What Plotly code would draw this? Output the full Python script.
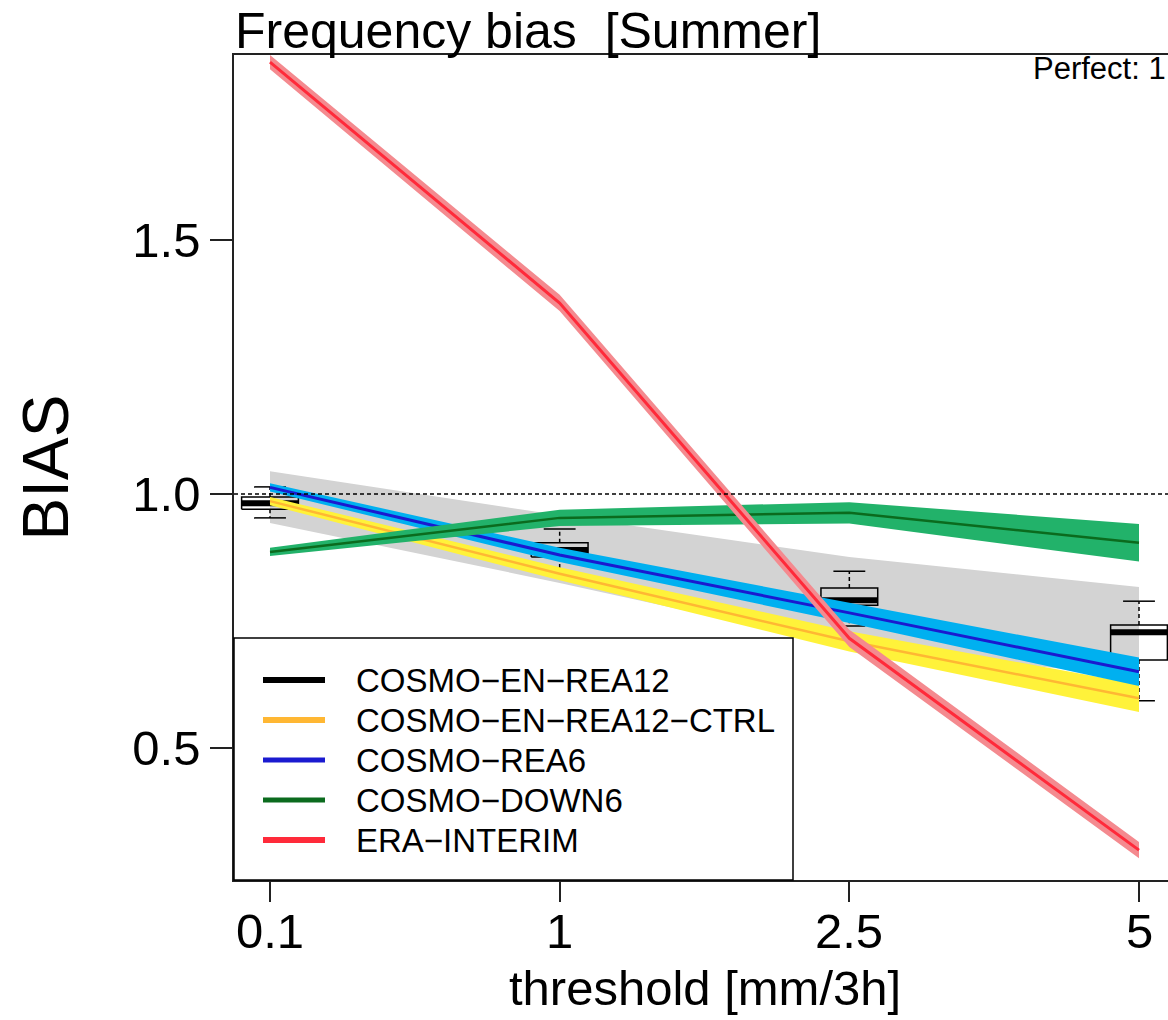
import plotly.graph_objects as go

# ---------------- data ----------------
thresholds = ["0.1", "1", "2.5", "5"]
pos = [1, 2, 3, 4]

# COSMO-EN-REA12 ensemble spread (grey band)
ens_lo = [0.943, 0.825, 0.700, 0.640]
ens_hi = [1.045, 0.958, 0.876, 0.817]

# COSMO-EN-REA12 boxplot statistics
box_lw = [0.953, 0.843, 0.740, 0.593]
box_q1 = [0.970, 0.876, 0.781, 0.673]
box_med = [0.982, 0.890, 0.791, 0.728]
box_q3 = [0.994, 0.904, 0.815, 0.742]
box_uw = [1.014, 0.931, 0.848, 0.789]

ctrl = [0.986, 0.843, 0.710, 0.598]
ctrl_sd = [0.008, 0.013, 0.020, 0.027]
rea6 = [1.013, 0.880, 0.766, 0.650]
rea6_sd = [0.008, 0.014, 0.020, 0.028]
down6 = [0.886, 0.953, 0.963, 0.904]
down6_sd = [0.008, 0.016, 0.021, 0.037]
era = [1.850, 1.376, 0.716, 0.299]
era_sd = [0.014, 0.016, 0.017, 0.016]

legend_names = ["COSMO\u2212EN\u2212REA12", "COSMO\u2212EN\u2212REA12\u2212CTRL",
                "COSMO\u2212REA6", "COSMO\u2212DOWN6", "ERA\u2212INTERIM"]
legend_colors = ["#000000", "#FFB733", "#1A1AD0", "#0B6B1E", "#FF2A3A"]
legend_widths = [6, 6, 5, 5, 6]

FONT = "Liberation Sans, Arial, Helvetica, sans-serif"

fig = go.Figure()


def band(center, sd, fillcolor, linecolor, lw):
    hi = [c + s for c, s in zip(center, sd)]
    lo = [c - s for c, s in zip(center, sd)]
    fig.add_trace(go.Scatter(x=pos + pos[::-1], y=hi + lo[::-1], fill="toself",
                             fillcolor=fillcolor, line=dict(width=0), mode="lines",
                             hoverinfo="skip", showlegend=False))
    fig.add_trace(go.Scatter(x=pos, y=center, mode="lines",
                             line=dict(color=linecolor, width=lw), showlegend=False))


# grey ensemble band
fig.add_trace(go.Scatter(x=pos + pos[::-1], y=ens_hi + ens_lo[::-1], fill="toself",
                         fillcolor="#D3D3D3", line=dict(width=0), mode="lines",
                         hoverinfo="skip", showlegend=False))

# boxplots
bw = 0.098
cw = 0.055
bx, by, mx, my, wx, wy, cx, cy = [], [], [], [], [], [], [], []
for p, lw_, q1, md, q3, uw in zip(pos, box_lw, box_q1, box_med, box_q3, box_uw):
    bx += [p - bw, p + bw, p + bw, p - bw, p - bw, None]
    by += [q1, q1, q3, q3, q1, None]
    mx += [p - bw, p + bw, None]
    my += [md, md, None]
    wx += [p, p, None, p, p, None]
    wy += [q3, uw, None, q1, lw_, None]
    cx += [p - cw, p + cw, None, p - cw, p + cw, None]
    cy += [uw, uw, None, lw_, lw_, None]
fig.add_trace(go.Scatter(x=wx, y=wy, mode="lines", line=dict(color="black", width=1.5, dash="4px,3px"),
                         showlegend=False))
fig.add_trace(go.Scatter(x=cx, y=cy, mode="lines", line=dict(color="black", width=1.5), showlegend=False))
fig.add_trace(go.Scatter(x=bx, y=by, mode="lines", line=dict(color="black", width=1.5), showlegend=False))
fig.add_trace(go.Scatter(x=mx, y=my, mode="lines", line=dict(color="black", width=6), showlegend=False))

band(ctrl, ctrl_sd, "#FFF23A", "#FFB733", 2.5)
band(rea6, rea6_sd, "#00B0F0", "#1A1AD0", 3)
band(down6, down6_sd, "#22B26A", "#0B6B1E", 2.5)
band(era, era_sd, "#F48A8F", "#FF2A3A", 3)

# perfect line
fig.add_hline(y=1.0, line=dict(color="black", width=1.3, dash="4px,3px"))

W, H = 1168, 1020
L, R, T, B = 234, 0, 55, 140
pw, ph = W - L - R, H - T - B


def px(x):
    return (x - L) / pw


def py(y):
    return (H - B - y) / ph


# legend (drawn manually)
fig.add_shape(type="rect", xref="paper", yref="paper", x0=0, x1=px(793), y0=0, y1=py(638),
              fillcolor="white", line=dict(color="black", width=1.5), layer="above")
rows = [680, 720, 760, 800, 840]
for name, col, w, r in zip(legend_names, legend_colors, legend_widths, rows):
    fig.add_shape(type="line", xref="paper", yref="paper", x0=px(263), x1=px(325),
                  y0=py(r), y1=py(r), line=dict(color=col, width=w), layer="above")
    fig.add_annotation(x=px(354), y=py(r), xref="paper", yref="paper", text=name,
                       showarrow=False, xanchor="left", yanchor="middle",
                       font=dict(family=FONT, size=33, color="black"))

# x tick labels
for p, t in zip(pos, thresholds):
    fig.add_annotation(x=p, y=py(931), xref="x", yref="paper", text=t, showarrow=False,
                       xanchor="center", yanchor="middle",
                       font=dict(family=FONT, size=49, color="black"))

# titles
fig.add_annotation(x=px(233), y=py(31), xref="paper", yref="paper",
                   text="Frequency bias  [Summer]", showarrow=False,
                   xanchor="left", yanchor="middle", font=dict(family=FONT, size=50, color="black"))
fig.add_annotation(x=px(1031), y=py(68), xref="paper", yref="paper",
                   text="Perfect: 1", showarrow=False,
                   xanchor="left", yanchor="middle", font=dict(family=FONT, size=31, color="black"))
fig.add_annotation(x=px(45), y=0.5, xref="paper", yref="paper", text="BIAS",
                   textangle=-90, showarrow=False, xanchor="center", yanchor="middle",
                   font=dict(family=FONT, size=64, color="black"))
fig.add_annotation(x=2.5, y=py(988), xref="x", yref="paper", text="threshold [mm/3h]",
                   showarrow=False, xanchor="center", yanchor="middle",
                   font=dict(family=FONT, size=49, color="black"))

x0 = 1 - (270 - L) / 289.67
x1 = 4 + (W - 1139) / 289.67
y_lo = 1 - (880 - 494) / 508
y_hi = 1 + (494 - 55) / 508

fig.update_layout(
    width=W, height=H, margin=dict(l=L, r=R, t=T, b=B, autoexpand=False),
    paper_bgcolor="white", plot_bgcolor="white", showlegend=False,
    template="none",
    xaxis=dict(range=[x0, x1], tickvals=pos, ticktext=[""] * len(pos), ticks="outside",
               ticklen=20, tickwidth=1.5, tickcolor="#222", showline=True, linecolor="#222",
               linewidth=1.5, mirror=True, showgrid=False, zeroline=False, automargin=False,
               tickfont=dict(family=FONT, size=49, color="black")),
    yaxis=dict(range=[y_lo, y_hi], tickvals=[0.5, 1.0, 1.5], ticktext=["0.5", "1.0", "1.5"],
               ticks="outside", ticklen=22, tickwidth=1.5, tickcolor="#222", showline=True,
               linecolor="#222", linewidth=1.5, mirror=False, showgrid=False, zeroline=False,
               automargin=False, tickfont=dict(family=FONT, size=49, color="black")),
)

fig.write_html("out.html")
